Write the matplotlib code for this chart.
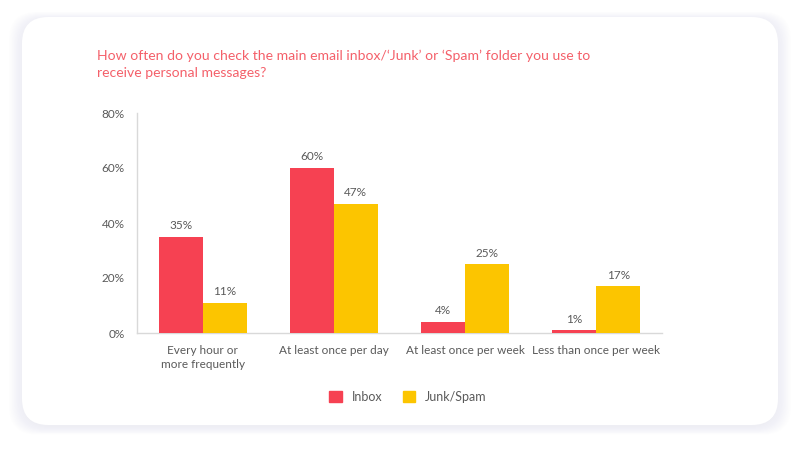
import numpy as np
import matplotlib.pyplot as plt
from matplotlib.patches import FancyBboxPatch, Rectangle

categories = ["Every hour or\nmore frequently", "At least once per day",
              "At least once per week", "Less than once per week"]
inbox = [35, 60, 4, 1]
junk = [11, 47, 25, 17]
series_names = ["Inbox", "Junk/Spam"]
y_ticks = [0, 20, 40, 60, 80]

title = ("How often do you check the main email inbox/\u2018Junk\u2019 or \u2018Spam\u2019 folder you use to\n"
         "receive personal messages?")

RED = "#F64152"
YELLOW = "#FCC500"
TITLE_COL = "#F4606A"
GREY = "#5a5a5a"

plt.rcParams['font.family'] = ['Lato', 'DejaVu Sans']

fig = plt.figure(figsize=(8, 4.49), dpi=100)
fig.patch.set_facecolor("white")

# soft shadow behind the card
for i in range(10):
    pad = 0.0018 * i
    sh = FancyBboxPatch((22 / 800 - pad, 1 - 425 / 449 - pad - 0.005),
                        756 / 800 + 2 * pad, 408 / 449 + 2 * pad,
                        boxstyle="round,pad=0,rounding_size=0.035",
                        transform=fig.transFigure, facecolor="#c8c8d4",
                        edgecolor="none", alpha=0.022, zorder=-3,
                        mutation_aspect=800 / 449)
    fig.patches.append(sh)
card = FancyBboxPatch((22 / 800, 1 - 425 / 449), 756 / 800, 408 / 449,
                      boxstyle="round,pad=0,rounding_size=0.033",
                      transform=fig.transFigure, facecolor="white",
                      edgecolor="none", zorder=-2, mutation_aspect=800 / 449)
fig.patches.append(card)

ax = fig.add_axes([137 / 800, 1 - 333 / 449, 525 / 800, 220 / 449])
ax.set_facecolor("none")

x = np.arange(len(categories))
w = 44 / 131
b1 = ax.bar(x - w / 2, inbox, w, color=RED, label=series_names[0], zorder=3)
b2 = ax.bar(x + w / 2, junk, w, color=YELLOW, label=series_names[1], zorder=3)

for bars, vals in ((b1, inbox), (b2, junk)):
    for r, v in zip(bars, vals):
        ax.text(r.get_x() + r.get_width() / 2, v + 2.0, f"{v}%",
                ha="center", va="bottom", fontsize=8.5, color=GREY)

ax.set_xlim(-0.5, len(categories) - 0.5)
ax.set_ylim(0, 80)
ax.set_yticks(y_ticks)
ax.set_yticklabels([f"{t}%" for t in y_ticks])
ax.set_xticks(x)
ax.set_xticklabels(categories, linespacing=1.3)
ax.tick_params(axis="both", length=0, labelsize=8.5, colors=GREY)
ax.tick_params(axis="y", pad=9)
ax.tick_params(axis="x", pad=9)
for s in ["top", "right"]:
    ax.spines[s].set_visible(False)
for s in ["left", "bottom"]:
    ax.spines[s].set_color("#d9d9d9")
    ax.spines[s].set_linewidth(1)

fig.text(97 / 800, 1 - 50 / 449, title, ha="left", va="top", fontsize=10.1,
         color=TITLE_COL, linespacing=1.5)

handles = [Rectangle((0, 0), 1, 1, color=RED), Rectangle((0, 0), 1, 1, color=YELLOW)]
fig.legend(handles, series_names, loc="center", bbox_to_anchor=(0.51, 1 - 397 / 449),
           ncol=2, frameon=False, fontsize=9, handlelength=1.0, handleheight=1.0,
           columnspacing=1.6, handletextpad=0.8, labelcolor=GREY)

fig.savefig("out.png", dpi=100)
